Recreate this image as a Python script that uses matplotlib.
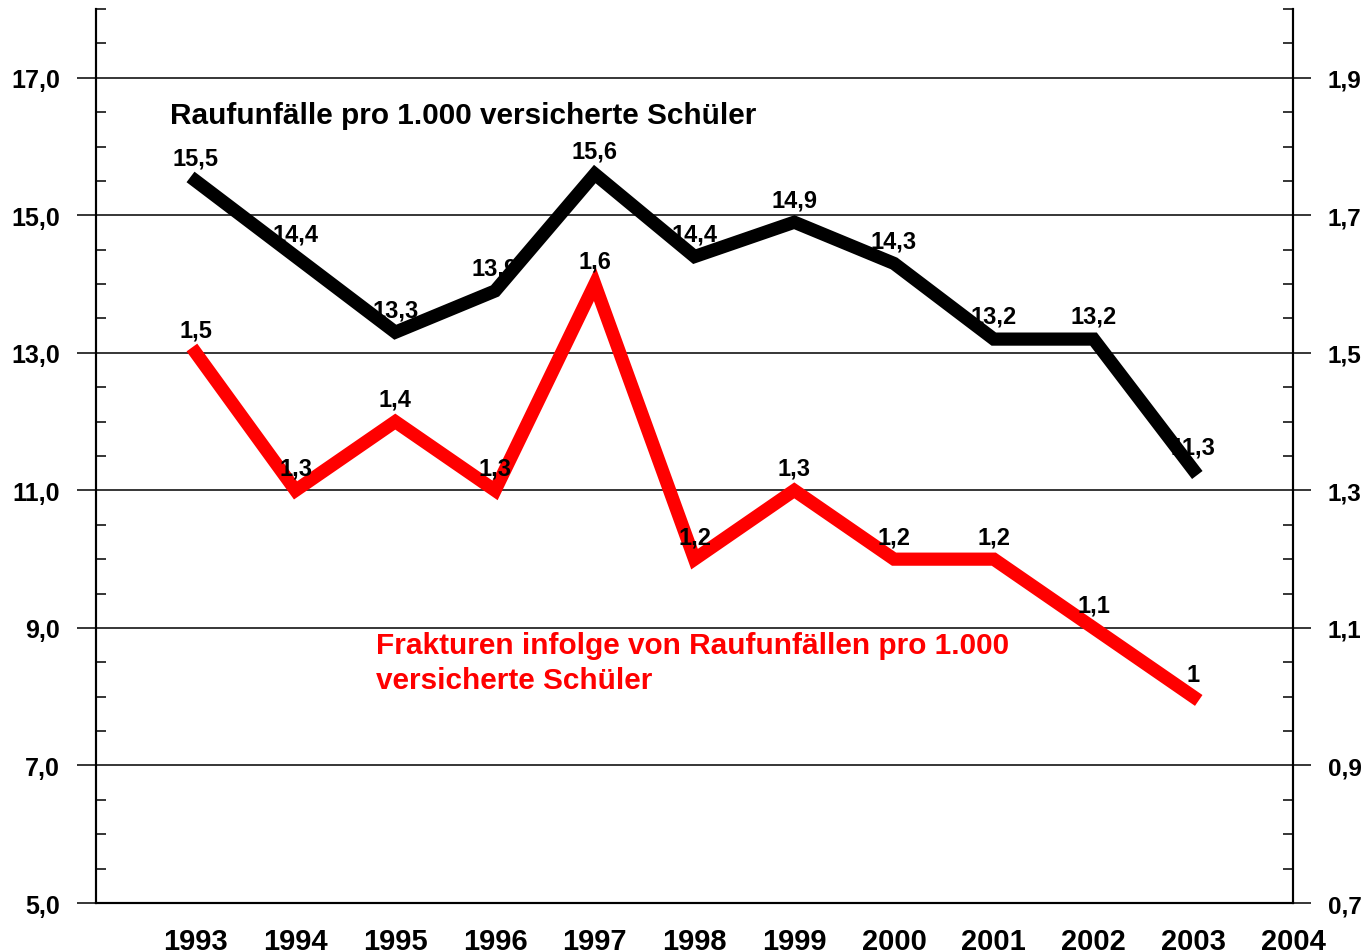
import matplotlib.pyplot as plt
import numpy as np
from matplotlib.ticker import MultipleLocator, FixedLocator

plt.rcParams['font.family'] = ['Liberation Sans', 'DejaVu Sans']
plt.rcParams['font.weight'] = 'bold'

years = [1993, 1994, 1995, 1996, 1997, 1998, 1999, 2000, 2001, 2002, 2003]
raufunfaelle = [15.5, 14.4, 13.3, 13.9, 15.6, 14.4, 14.9, 14.3, 13.2, 13.2, 11.3]
frakturen = [1.5, 1.3, 1.4, 1.3, 1.6, 1.2, 1.3, 1.2, 1.2, 1.1, 1.0]
year_ticks = list(range(1993, 2005))
left_ticks = [5, 7, 9, 11, 13, 15, 17]
right_ticks = [0.7, 0.9, 1.1, 1.3, 1.5, 1.7, 1.9]


def de(v):
    # deutsche Schreibweise mit Komma
    s = ('%.1f' % v).replace('.', ',')
    return s


fig = plt.figure(figsize=(13.66, 9.53), dpi=100)
ax = fig.add_axes([0.0703, 0.0514, 0.8763, 0.9381])
ax2 = ax.twinx()

ax.set_xlim(1992, 2004)
ax.set_ylim(5, 18)
ax2.set_ylim(0.7, 2.0)

# Gitterlinien an den Hauptticks
for v in left_ticks:
    ax.axhline(v, color='black', lw=1.1, zorder=1)

# schwarze Beschriftung liegt unter der Linie
ax.plot(years, raufunfaelle, color='black', lw=9.5, solid_joinstyle='miter', zorder=5)
for x, y in zip(years, raufunfaelle):
    ax.annotate(de(y), (x, y), xytext=(0, 8), textcoords='offset points',
                ha='center', va='bottom', fontsize=17, fontweight='bold', zorder=3)

# rote Beschriftung liegt ueber der Linie
ax2.plot(years, frakturen, color='#ff0000', lw=9.5, solid_joinstyle='miter', zorder=3)
for x, y in zip(years, frakturen):
    lbl = de(y) if y != 1.0 else '1'
    ax2.annotate(lbl, (x, y), xytext=(0, 8), textcoords='offset points',
                 ha='center', va='bottom', fontsize=17, fontweight='bold', zorder=5)

ax.text(1992.74, 16.46, 'Raufunfälle pro 1.000 versicherte Schüler',
        fontsize=21.4, fontweight='bold', va='center', ha='left', zorder=6)
ax.text(1994.81, 8.5, 'Frakturen infolge von Raufunfällen pro 1.000\nversicherte Schüler',
        fontsize=21.4, fontweight='bold', color='#ff0000', va='center', ha='left',
        linespacing=1.3, zorder=6)

# Achsen
ax.xaxis.set_major_locator(FixedLocator(year_ticks))
ax.set_xticklabels([str(y) for y in year_ticks], fontsize=21, fontweight='bold')
ax.tick_params(axis='x', length=0, pad=17)

ax.yaxis.set_major_locator(FixedLocator(left_ticks))
ax.yaxis.set_minor_locator(MultipleLocator(0.5))
ax.set_yticklabels([de(v) for v in left_ticks], fontsize=18, fontweight='bold')
ax.tick_params(axis='y', which='major', direction='out', length=14, width=1.1, pad=12)
ax.tick_params(axis='y', which='minor', direction='in', length=7, width=1.1)

ax2.yaxis.set_major_locator(FixedLocator(right_ticks))
ax2.yaxis.set_minor_locator(MultipleLocator(0.05))
ax2.set_yticklabels([de(v) for v in right_ticks], fontsize=17.5, fontweight='bold')
ax2.tick_params(axis='y', which='major', direction='out', length=13, width=1.1, pad=12)
ax2.tick_params(axis='y', which='minor', direction='in', length=7, width=1.1)

for a in (ax, ax2):
    a.spines['top'].set_visible(False)
    for s in ('left', 'right', 'bottom'):
        a.spines[s].set_linewidth(1.5)

fig.savefig('out.png', dpi=100)
